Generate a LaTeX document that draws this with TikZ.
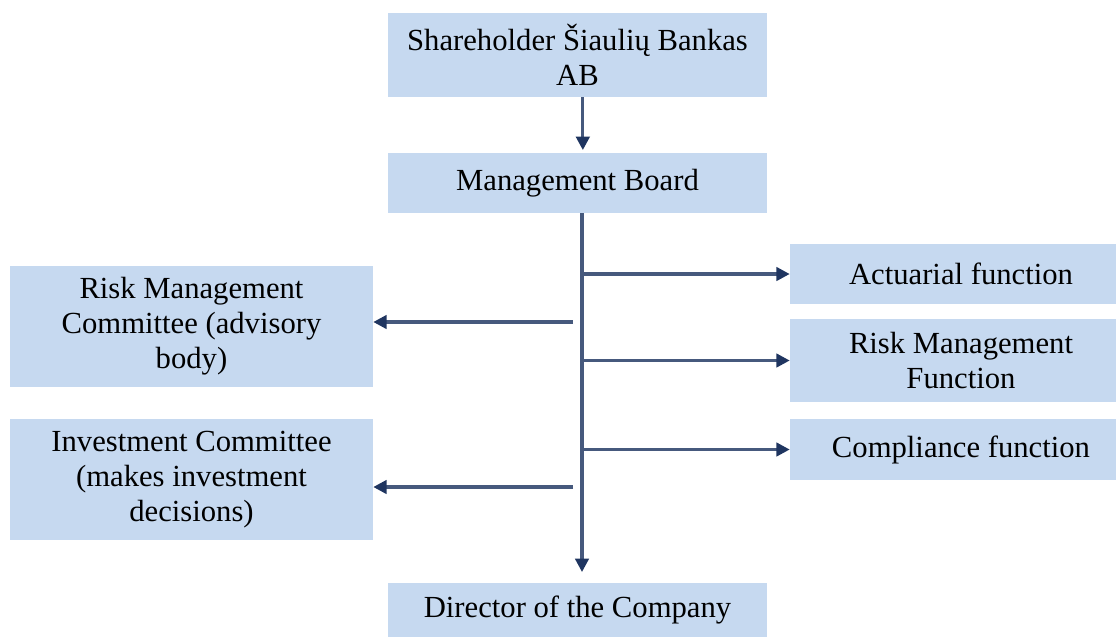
\documentclass[tikz,border=0pt]{standalone}
\usepackage{fontspec}
\setmainfont{Liberation Serif}
\usetikzlibrary{arrows.meta}
\definecolor{boxfill}{HTML}{C6D9F0}
\definecolor{linecol}{HTML}{46597D}
\definecolor{tipcol}{HTML}{1F3560}
\begin{document}
\begin{tikzpicture}[x=0.75pt,y=-0.75pt,
  box/.style={fill=boxfill, draw=none, align=center, inner sep=0pt,
    font=\fontsize{23}{26.25}\selectfont},
  arr/.style={draw=linecol, line width=2.4pt,
    -{Triangle[length=10pt,width=10pt,fill=tipcol,color=tipcol]}}]
\useasboundingbox (0,0) rectangle (1116,637);
\node[box, minimum width=379*0.75pt, minimum height=84*0.75pt] (sh) at (577.5,55) {Shareholder Šiaulių Bankas\\AB};
\node[box, minimum width=379*0.75pt, minimum height=60*0.75pt] (mb) at (577.5,183) {Management Board};
\node[box, minimum width=379*0.75pt, minimum height=54*0.75pt] (dir) at (577.5,610) {Director of the Company};
\node[box, minimum width=326*0.75pt, minimum height=60*0.75pt] (act) at (953,274) {\hspace*{12pt}Actuarial function};
\node[box, minimum width=326*0.75pt, minimum height=83*0.75pt] (rmf) at (953,360.5) {\hspace*{12pt}Risk Management\\\hspace*{12pt}Function};
\node[box, minimum width=326*0.75pt, minimum height=61*0.75pt] (comp) at (953,449.5) {\hspace*{12pt}Compliance function};
\node[box, minimum width=363*0.75pt, minimum height=121*0.75pt] (rmc) at (191.5,326.5) {Risk Management\\Committee (advisory\\body)};
\node[box, minimum width=363*0.75pt, minimum height=121*0.75pt] (inv) at (191.5,479.5) {Investment Committee\\(makes investment\\decisions)};
\coordinate (ttop) at (582,213);
\coordinate (tbot) at (582,572);
\coordinate (l1) at (573,322);
\coordinate (l2) at (573,487);
\draw[arr, shorten >=2pt] ([xshift=4pt]sh.south) -- ([xshift=4pt]mb.north);
\draw[arr] (ttop) -- (tbot);
\draw[arr] (act.west -| ttop) -- (act.west);
\draw[arr] (rmf.west -| ttop) -- (rmf.west);
\draw[arr] (comp.west -| ttop) -- (comp.west);
\draw[arr] (l1) -- (l1 -| rmc.east);
\draw[arr] (l2) -- (l2 -| inv.east);
\end{tikzpicture}
\end{document}
